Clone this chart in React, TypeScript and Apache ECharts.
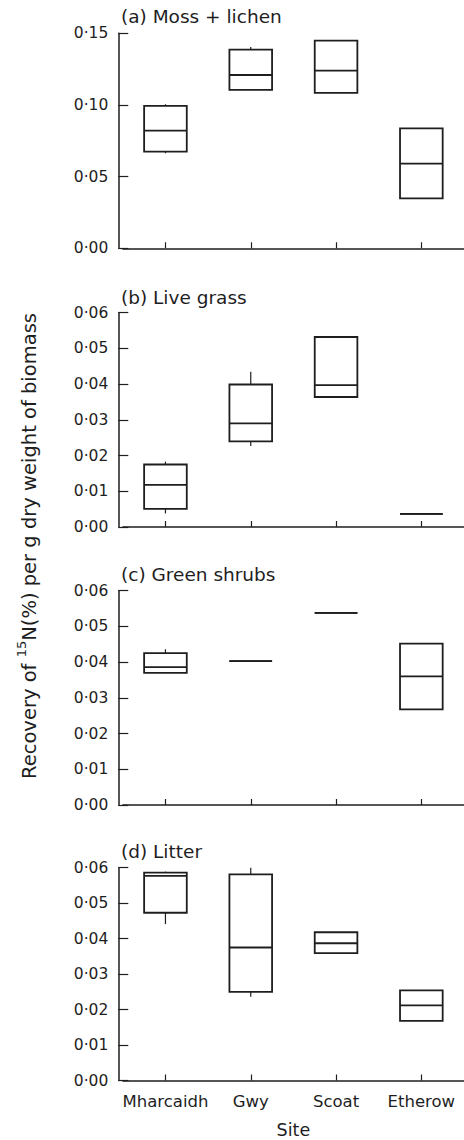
import React, { useEffect, useRef } from "react";
import * as echarts from "echarts";

const sites = ["Mharcaidh", "Gwy", "Scoat", "Etherow"];
// each entry: [whisker low, Q1, median, Q3, whisker high]
const mossLichen = [
  [0.0663, 0.0674, 0.0821, 0.0993, 0.1005],
  [0.1105, 0.1105, 0.1209, 0.1386, 0.1405],
  [0.1084, 0.1084, 0.124, 0.1449, 0.1449],
  [0.0349, 0.0349, 0.0591, 0.0837, 0.0837],
];
const liveGrass = [
  [0.0038, 0.0051, 0.0118, 0.0175, 0.0183],
  [0.0227, 0.024, 0.029, 0.0399, 0.0435],
  [0.0364, 0.0364, 0.0397, 0.0532, 0.0532],
  [0.0037, 0.0037, 0.0037, 0.0037, 0.0037],
];
const greenShrubs = [
  [0.037, 0.037, 0.0386, 0.0425, 0.0436],
  [0.0403, 0.0403, 0.0403, 0.0403, 0.0403],
  [0.0538, 0.0538, 0.0538, 0.0538, 0.0538],
  [0.0268, 0.0268, 0.036, 0.0452, 0.0452],
];
const litter = [
  [0.0441, 0.0473, 0.0577, 0.0586, 0.0589],
  [0.0236, 0.025, 0.0375, 0.0581, 0.06],
  [0.0359, 0.0359, 0.0387, 0.0418, 0.0418],
  [0.0168, 0.0168, 0.0212, 0.0254, 0.0254],
];
const panelTitles = ["(a) Moss + lichen", "(b) Live grass", "(c) Green shrubs", "(d) Litter"];
const panelData = [mossLichen, liveGrass, greenShrubs, litter];
const yMax = [0.15, 0.06, 0.06, 0.06];
const yInterval = [0.05, 0.01, 0.01, 0.01];
const xTitle = "Site";

const INK = "#1e1e1e";
const FONT = "DejaVu Sans";

export default function App() {
  const ref = useRef<HTMLDivElement>(null);
  useEffect(() => {
    if (!ref.current) return;
    const chart = echarts.init(ref.current, undefined, { renderer: "svg" });
    const gridLeft = 122.8;
    const gridWidth = 345.6;
    const grids = [
      { top: 33.3, height: 215 },
      { top: 312.7, height: 214.3 },
      { top: 590.7, height: 214.3 },
      { top: 867.7, height: 214 },
    ];
    const titleY = [16.7, 297, 574.5, 851];

    const renderItem = (params: any, api: any) => {
      const x = api.value(0);
      const lo = api.value(1);
      const q1 = api.value(2);
      const med = api.value(3);
      const q3 = api.value(4);
      const hi = api.value(5);
      const band = api.size([1, 0])[0];
      const half = band * 0.25;
      const pLo = api.coord([x, lo]);
      const pQ1 = api.coord([x, q1]);
      const pMed = api.coord([x, med]);
      const pQ3 = api.coord([x, q3]);
      const pHi = api.coord([x, hi]);
      const cx = pMed[0];
      const children: any[] = [];
      if (lo < q1) {
        children.push({
          type: "line",
          shape: { x1: cx, y1: pLo[1], x2: cx, y2: pQ1[1] },
          style: { stroke: INK, lineWidth: 1.2 },
        });
      }
      if (hi > q3) {
        children.push({
          type: "line",
          shape: { x1: cx, y1: pHi[1], x2: cx, y2: pQ3[1] },
          style: { stroke: INK, lineWidth: 1.2 },
        });
      }
      children.push({
        type: "rect",
        shape: { x: cx - half, y: pQ3[1], width: half * 2, height: pQ1[1] - pQ3[1] },
        style: { fill: "none", stroke: INK, lineWidth: 1.8 },
      });
      children.push({
        type: "line",
        shape: { x1: cx - half, y1: pMed[1], x2: cx + half, y2: pMed[1] },
        style: { stroke: INK, lineWidth: 1.8 },
      });
      return { type: "group", children };
    };

    const option: any = {
      animation: false,
      backgroundColor: "#fff",
      textStyle: { fontFamily: FONT, color: INK },
      grid: grids.map((g) => ({ left: gridLeft, width: gridWidth, top: g.top, height: g.height })),
      xAxis: grids.map((_, i) => ({
        type: "category",
        gridIndex: i,
        data: sites,
        boundaryGap: true,
        offset: 3.5,
        axisLine: { show: true, lineStyle: { color: INK, width: 1.5 } },
        axisTick: { show: true, inside: true, length: 6, alignWithLabel: true, interval: 0, lineStyle: { color: INK, width: 1.2 } },
        axisLabel: {
          show: i === 3,
          interval: 0,
          hideOverlap: false,
          color: INK,
          fontFamily: FONT,
          fontSize: 16.5,
          margin: 9,
        },
        name: i === 3 ? xTitle : "",
        nameLocation: "middle",
        nameGap: 37,
        nameTextStyle: { color: INK, fontFamily: FONT, fontSize: 17.5 },
        splitLine: { show: false },
      })),
      yAxis: grids.map((_, i) => ({
        type: "value",
        gridIndex: i,
        min: 0,
        max: yMax[i],
        interval: yInterval[i],
        offset: 4.5,
        axisLine: { show: true, lineStyle: { color: INK, width: 1.5 } },
        axisTick: { show: true, inside: true, length: 10, lineStyle: { color: INK, width: 1.2 } },
        axisLabel: {
          color: INK,
          fontFamily: FONT,
          fontSize: 15.5,
          margin: 10,
          formatter: (v: number) => v.toFixed(2).replace(".", "\u00b7"),
        },
        splitLine: { show: false },
      })),
      series: panelData.map((d, i) => ({
        type: "custom",
        xAxisIndex: i,
        yAxisIndex: i,
        renderItem,
        clip: false,
        data: d.map((row, k) => [k, ...row]),
        encode: { x: 0, y: [1, 2, 3, 4, 5] },
      })),
      graphic: [
        ...panelTitles.map((t, i) => ({
          type: "text",
          x: 121,
          y: titleY[i],
          style: {
            text: t,
            fill: INK,
            font: `18.5px "${FONT}"`,
            textAlign: "left",
            textVerticalAlign: "middle",
          },
        })),
        {
          type: "text",
          x: 27,
          y: 546,
          rotation: Math.PI / 2,
          style: {
            text: "{a|Recovery of }{s|15}{a|N(%) per g dry weight of biomass}",
            align: "center",
            verticalAlign: "middle",
            fill: INK,
            rich: {
              a: { fontFamily: FONT, fontSize: 19.5, lineHeight: 25, fill: INK, verticalAlign: "bottom" },
              s: { fontFamily: FONT, fontSize: 13, lineHeight: 25, fill: INK, verticalAlign: "top" },
            },
          },
        },
      ],
    };
    chart.setOption(option);
    return () => chart.dispose();
  }, []);
  return (
    <div
      ref={ref}
      style={{ position: "absolute", left: 0, top: 0, width: 464, height: 1140 }}
    />
  );
}
